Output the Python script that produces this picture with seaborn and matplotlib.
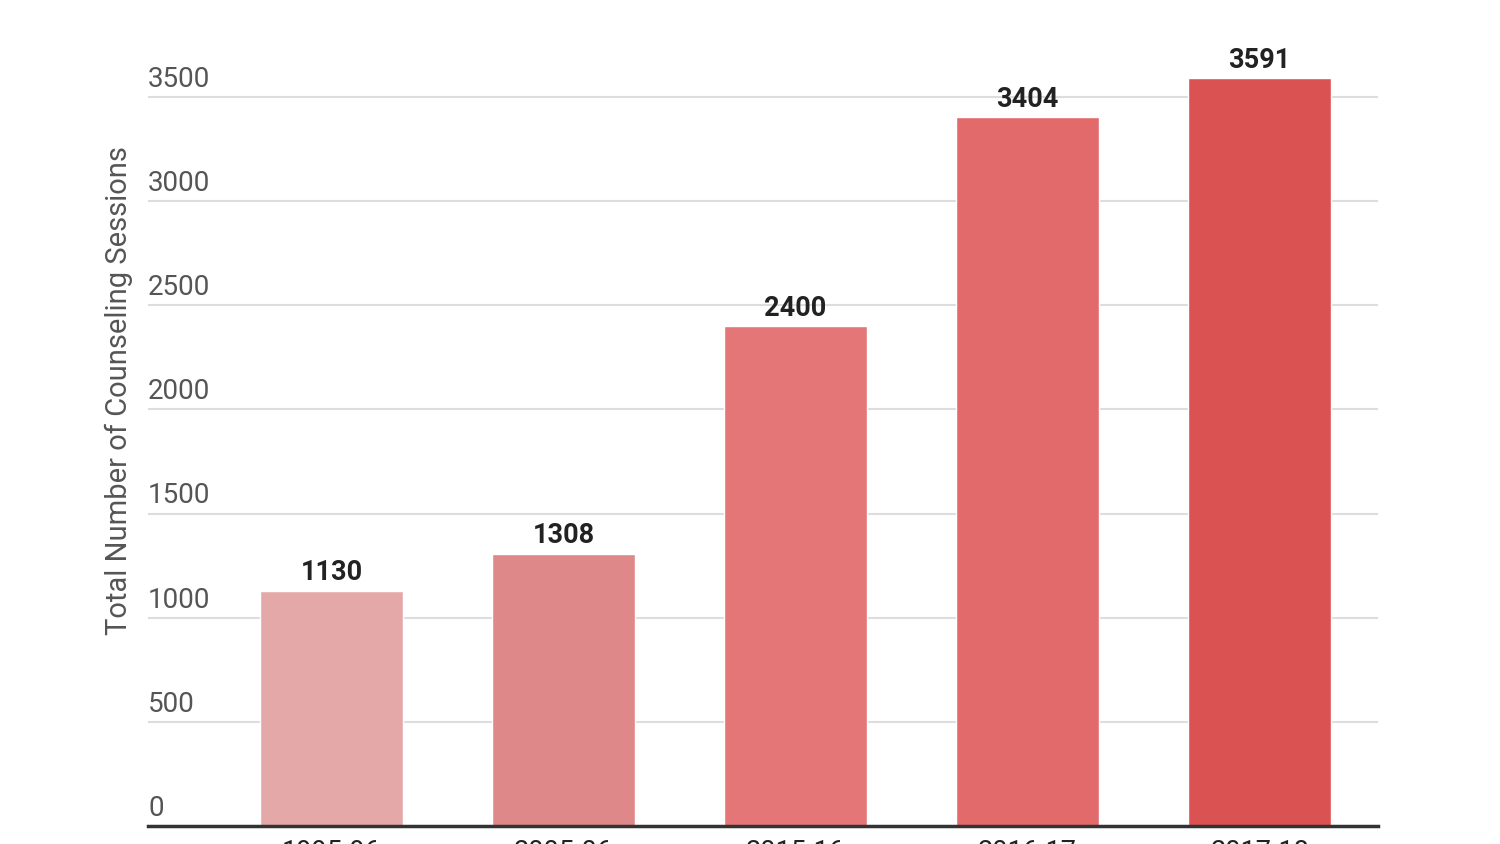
import pandas as pd
import seaborn as sns
import matplotlib.pyplot as plt

years = ['1995-96', '2005-06', '2015-16', '2016-17', '2017-18']
sessions = [1130, 1308, 2400, 3404, 3591]
bar_colors = ['#E5A8A8', '#DF8889', '#E57677', '#E26A6A', '#DB5252']
y_ticks = [0, 500, 1000, 1500, 2000, 2500, 3000, 3500]

sns.set_style('white')
plt.rcParams['font.family'] = ['Roboto', 'DejaVu Sans']

data = pd.DataFrame({'year': years, 'sessions': sessions})

fig = plt.figure(figsize=(15, 8.44), dpi=100)
ax = fig.add_axes([0.0987, 0.0213, 0.82, 0.938])

sns.barplot(x='year', y='sessions', hue='year', data=data, palette=bar_colors,
            width=0.616, legend=False, saturation=1, ax=ax, zorder=3)

ax.set_xlim(-0.79, 4.51)
ax.set_ylim(0, 3800)

# gridlines with labels sitting above them, google-charts style
for v in y_ticks[1:]:
    ax.axhline(v, color='#DDDDDD', lw=1.5, zorder=1)
for v in y_ticks:
    ax.annotate(str(v), xy=(0, v), xycoords=('axes fraction', 'data'),
                xytext=(0, 3), textcoords='offset points',
                ha='left', va='bottom', fontsize=20, color='#555555')
ax.set_yticks([])

for i, v in enumerate(sessions):
    ax.annotate(str(v), xy=(i, v), xytext=(0, 3), textcoords='offset points',
                ha='center', va='bottom', fontsize=19.5, fontweight='bold', color='#222222')

for s in ['top', 'right', 'left']:
    ax.spines[s].set_visible(False)
ax.spines['bottom'].set_color('#333333')
ax.spines['bottom'].set_linewidth(2.5)
ax.spines['bottom'].set_zorder(4)

ax.tick_params(axis='x', length=0, pad=9, labelsize=19.5, labelcolor='#222222')
ax.set_xlabel('')
ax.set_ylabel('Total Number of Counseling Sessions', fontsize=21, color='#555555')
ax.yaxis.set_label_coords(-0.012, 0.55)

fig.savefig('out.png', dpi=100)
